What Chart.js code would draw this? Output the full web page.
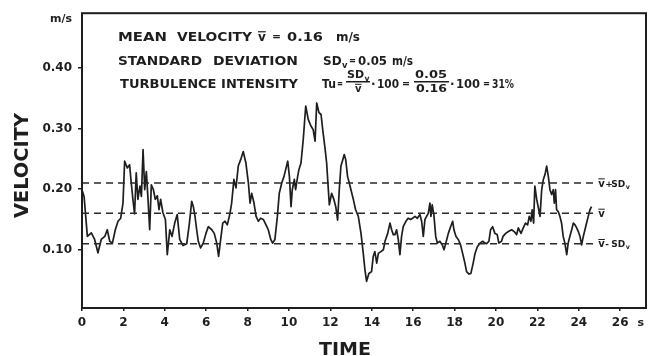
<!DOCTYPE html>
<html>
<head>
<meta charset="utf-8">
<script src="https://cdn.jsdelivr.net/npm/chart.js@4"></script>
<style>
  html, body { margin: 0; padding: 0; background: #fff; }
  canvas { display: block; }
</style>
</head>
<body>
<canvas id="chart" width="649" height="356"></canvas>
<script>
// velocity record, time in s, velocity in m/s
const timeSeconds = [
  0.0, 0.1, 0.26, 0.45, 0.61, 0.77, 0.93, 1.1, 1.22, 1.34, 1.47, 1.61, 1.74, 1.87, 1.98,
  2.06, 2.19, 2.3, 2.38, 2.46, 2.54, 2.62, 2.7, 2.8, 2.87, 2.95, 3.03, 3.11, 3.19, 3.27,
  3.35, 3.45, 3.54, 3.64, 3.72, 3.8, 3.91, 4.03, 4.12, 4.24, 4.35, 4.48, 4.6, 4.72, 4.88,
  5.06, 5.19, 5.3, 5.38, 5.46, 5.54, 5.62, 5.73, 5.86, 5.99, 6.1, 6.27, 6.39, 6.51, 6.6,
  6.7, 6.8, 6.91, 7.02, 7.15, 7.23, 7.34, 7.44, 7.55, 7.67, 7.79, 7.92, 8.04, 8.12, 8.2,
  8.31, 8.41, 8.52, 8.63, 8.76, 8.89, 9.0, 9.12, 9.21, 9.32, 9.44, 9.53, 9.65, 9.76,
  9.94, 10.02, 10.1, 10.16, 10.26, 10.32, 10.42, 10.48, 10.58, 10.69, 10.81, 10.93, 11.06,
  11.17, 11.26, 11.34, 11.45, 11.55, 11.63, 11.74, 11.82, 11.87, 11.95, 12.06, 12.17,
  12.26, 12.35, 12.43, 12.51, 12.58, 12.67, 12.74, 12.83, 12.95, 13.11, 13.22, 13.35,
  13.48, 13.59, 13.67, 13.75, 13.86, 13.99, 14.07, 14.15, 14.24, 14.32, 14.44, 14.56,
  14.64, 14.77, 14.88, 14.96, 15.04, 15.12, 15.2, 15.28, 15.36, 15.44, 15.52, 15.65,
  15.76, 15.88, 15.97, 16.09, 16.2, 16.33, 16.41, 16.49, 16.57, 16.65, 16.73, 16.81,
  16.86, 16.92, 17.0, 17.09, 17.17, 17.29, 17.41, 17.49, 17.58, 17.7, 17.81, 17.91,
  17.97, 18.07, 18.18, 18.29, 18.39, 18.5, 18.58, 18.7, 18.79, 18.9, 18.99, 19.1, 19.23,
  19.36, 19.47, 19.55, 19.66, 19.74, 19.84, 19.95, 20.06, 20.14, 20.27, 20.34, 20.47,
  20.6, 20.76, 20.88, 21.0, 21.08, 21.21, 21.32, 21.43, 21.53, 21.61, 21.69, 21.75,
  21.82, 21.88, 21.97, 22.04, 22.13, 22.21, 22.29, 22.37, 22.45, 22.53, 22.61, 22.69,
  22.77, 22.82, 22.88, 22.93, 23.01, 23.09, 23.17, 23.25, 23.33, 23.42, 23.49, 23.57,
  23.66, 23.74, 23.82, 23.9, 23.98, 24.06, 24.14, 24.22, 24.3, 24.38, 24.46, 24.54, 24.62
];
const velocity = [
  0.199, 0.188, 0.122, 0.128, 0.117, 0.095, 0.117, 0.122, 0.133, 0.114, 0.111, 0.133, 0.147, 0.152, 0.177,
  0.246, 0.235, 0.240, 0.210, 0.183, 0.159, 0.227, 0.183, 0.205, 0.188, 0.265, 0.199, 0.229, 0.183, 0.133,
  0.207, 0.199, 0.183, 0.189, 0.166, 0.183, 0.161, 0.150, 0.092, 0.133, 0.122, 0.144, 0.158, 0.117, 0.107,
  0.110, 0.144, 0.180, 0.171, 0.155, 0.133, 0.114, 0.103, 0.111, 0.127, 0.138, 0.133, 0.127, 0.111, 0.089,
  0.117, 0.144, 0.147, 0.141, 0.160, 0.177, 0.216, 0.202, 0.238, 0.249, 0.262, 0.243, 0.210, 0.177, 0.193,
  0.177, 0.155, 0.147, 0.152, 0.150, 0.141, 0.133, 0.117, 0.111, 0.117, 0.155, 0.193, 0.210, 0.221,
  0.246, 0.221, 0.171, 0.199, 0.216, 0.199, 0.221, 0.232, 0.243, 0.282, 0.337, 0.315, 0.304,
  0.298, 0.279, 0.342, 0.326, 0.323, 0.298, 0.268, 0.243, 0.216, 0.174, 0.193, 0.183,
  0.171, 0.149, 0.199, 0.238, 0.246, 0.257, 0.249, 0.221, 0.205, 0.183, 0.166, 0.155,
  0.127, 0.094, 0.067, 0.048, 0.061, 0.064, 0.089, 0.097, 0.078, 0.094, 0.097, 0.100,
  0.114, 0.127, 0.144, 0.133, 0.125, 0.125, 0.133, 0.117, 0.092, 0.122, 0.138, 0.147,
  0.152, 0.150, 0.152, 0.155, 0.152, 0.158, 0.147, 0.122, 0.150, 0.155, 0.160, 0.177,
  0.155, 0.174, 0.158, 0.122, 0.111, 0.114, 0.108, 0.100, 0.111, 0.127, 0.138, 0.147,
  0.133, 0.122, 0.117, 0.108, 0.094, 0.078, 0.064, 0.060, 0.061, 0.078, 0.094, 0.105, 0.111,
  0.114, 0.111, 0.110, 0.114, 0.133, 0.138, 0.127, 0.125, 0.111, 0.114, 0.122, 0.127,
  0.130, 0.133, 0.130, 0.125, 0.136, 0.127, 0.136, 0.144, 0.141, 0.155, 0.147, 0.166,
  0.144, 0.205, 0.183, 0.171, 0.155, 0.199, 0.216, 0.224, 0.238, 0.221, 0.199, 0.191,
  0.199, 0.177, 0.199, 0.166, 0.163, 0.155, 0.144, 0.122, 0.111, 0.092, 0.111, 0.122,
  0.133, 0.144, 0.141, 0.136, 0.130, 0.122, 0.108, 0.122, 0.133, 0.144, 0.155, 0.166, 0.171
];

const meanVelocity = 0.16;
const sdVelocity = 0.05;
const dashEnd = 24.8;

const xTicks = [0, 2, 4, 6, 8, 10, 12, 14, 16, 18, 20, 22, 24, 26];
const yTicks = [0.1, 0.2, 0.3, 0.4];

const INK = '#1e1e1e';
const FONT = '"DejaVu Sans", sans-serif';

// text stretched or squeezed horizontally to a given width
function put(ctx, text, x, y, width, size) {
  ctx.font = 'bold ' + size + 'px ' + FONT;
  const w = ctx.measureText(text).width;
  const f = width ? Math.min(1.4, Math.max(0.6, width / w)) : 1;
  ctx.save();
  ctx.translate(x, y);
  ctx.scale(f, 1);
  ctx.fillText(text, 0, 0);
  ctx.restore();
  return w * f;
}

// v with a bar over it
function vbar(ctx, x, y, size) {
  ctx.font = 'bold ' + size + 'px ' + FONT;
  const w = ctx.measureText('v').width;
  ctx.fillText('v', x, y);
  ctx.fillRect(x, y - size * 0.82, w, Math.max(1, size * 0.1));
  return w;
}

function sdv(ctx, x, y, size) {
  const w = put(ctx, 'SD', x, y, null, size);
  put(ctx, 'v', x + w + 0.5, y + size * 0.25, null, size * 0.7);
  return w + size * 0.5;
}

const frame = {
  id: 'frame',
  afterDraw(chart) {
    const { ctx, chartArea: a } = chart;
    ctx.save();
    ctx.strokeStyle = INK;
    ctx.lineWidth = 2;
    ctx.strokeRect(a.left, a.top, a.right - a.left, a.bottom - a.top);
    ctx.restore();
  }
};

const annotations = {
  id: 'annotations',
  afterDraw(chart) {
    const { ctx } = chart;
    const xs = chart.scales.x, ys = chart.scales.y;
    ctx.save();
    ctx.fillStyle = INK;
    ctx.textBaseline = 'alphabetic';
    ctx.textAlign = 'left';

    // statistics box text
    put(ctx, 'MEAN', 118, 41, 49, 12);
    put(ctx, 'VELOCITY', 177, 41, 75, 12);
    vbar(ctx, 258, 41, 12);
    put(ctx, '=', 272, 40, 9, 11);
    put(ctx, '0.16', 287, 41, 36, 12);
    put(ctx, 'm/s', 336, 41, 24, 12);

    put(ctx, 'STANDARD', 118, 65, 84, 12);
    put(ctx, 'DEVIATION', 213, 65, 85, 12);
    sdv(ctx, 323, 65, 12);
    put(ctx, '=', 349, 64, 7, 10);
    put(ctx, '0.05', 358, 65, 29, 12);
    put(ctx, 'm/s', 392, 65, 21, 12);

    put(ctx, 'TURBULENCE INTENSITY', 120, 88, 178, 12);
    put(ctx, 'Tu', 322, 88, 14, 12);
    put(ctx, '=', 337, 87, 6, 10);
    sdv(ctx, 347, 78, 11);
    ctx.fillRect(346, 81, 24, 1.5);
    vbar(ctx, 355, 92, 10);
    put(ctx, '·', 371, 88, null, 12);
    put(ctx, '100', 377, 88, 22, 12);
    put(ctx, '=', 402, 87, 8, 10);
    put(ctx, '0.05', 415, 78, 32, 11);
    ctx.fillRect(414, 81, 35, 1.5);
    put(ctx, '0.16', 416, 92, 31, 11);
    put(ctx, '·', 450, 88, null, 12);
    put(ctx, '100', 456, 88, 24, 12);
    put(ctx, '=', 483, 87, 7, 10);
    put(ctx, '31%', 492, 88, 22, 12);

    // labels at the end of the reference lines
    const lx = xs.getPixelForValue(dashEnd) + 3;
    const lines = [
      { v: meanVelocity + sdVelocity, s: '+' },
      { v: meanVelocity, s: null },
      { v: meanVelocity - sdVelocity, s: '-' }
    ];
    lines.forEach(l => {
      const y = ys.getPixelForValue(l.v) + 3.5;
      let x = lx + vbar(ctx, lx, y, 10) + 0.5;
      if (l.s) {
        put(ctx, l.s, x, y, null, 9);
        x += 6;
        sdv(ctx, x, y, 9);
      }
    });

    // axis units and titles
    ctx.textAlign = 'right';
    put(ctx, 'm/s', 72, 22, null, 11);
    ctx.textAlign = 'center';
    put(ctx, 's', xs.getPixelForValue(27), 326, null, 11);
    ctx.textAlign = 'left';
    put(ctx, 'TIME', 319, 355, 52, 18);

    ctx.translate(28, 218);
    ctx.rotate(-Math.PI / 2);
    put(ctx, 'VELOCITY', 0, 0, 105, 19);
    ctx.restore();
  }
};

const trace = timeSeconds.map((t, i) => ({ x: t, y: velocity[i] }));
const level = v => [{ x: 0, y: v }, { x: dashEnd, y: v }];
const dashed = v => ({
  data: level(v),
  showLine: true,
  borderColor: '#2a2a2a',
  borderWidth: 1.5,
  borderDash: [7, 5],
  pointRadius: 0
});

const tickFont = { family: FONT, size: 12, weight: 'bold' };

new Chart(document.getElementById('chart'), {
  type: 'scatter',
  data: {
    datasets: [
      dashed(meanVelocity + sdVelocity),
      dashed(meanVelocity),
      dashed(meanVelocity - sdVelocity),
      {
        data: trace,
        showLine: true,
        borderColor: INK,
        borderWidth: 1.7,
        borderJoinStyle: 'round',
        tension: 0,
        pointRadius: 0
      }
    ]
  },
  options: {
    responsive: false,
    animation: false,
    events: [],
    layout: { padding: { top: 13, right: 3, left: 0, bottom: 0 } },
    plugins: { legend: { display: false }, tooltip: { enabled: false } },
    scales: {
      x: {
        type: 'linear',
        min: 0,
        max: 27.25,
        afterFit(s) { s.height = 48; },
        afterBuildTicks(s) { s.ticks = xTicks.map(v => ({ value: v })); },
        border: { display: false },
        grid: { drawOnChartArea: false, tickLength: 3, color: INK, lineWidth: 1.5 },
        ticks: { font: tickFont, color: INK, padding: 5, maxRotation: 0, autoSkip: false }
      },
      y: {
        min: 0.004,
        max: 0.49,
        afterFit(s) { s.width = 82; },
        afterBuildTicks(s) { s.ticks = yTicks.map(v => ({ value: v })); },
        border: { display: false },
        grid: { drawOnChartArea: false, tickLength: 4, color: INK, lineWidth: 1.5 },
        ticks: {
          font: tickFont, color: INK, padding: 6,
          callback: v => v.toFixed(2)
        }
      }
    }
  },
  plugins: [frame, annotations]
});
</script>
</body>
</html>
